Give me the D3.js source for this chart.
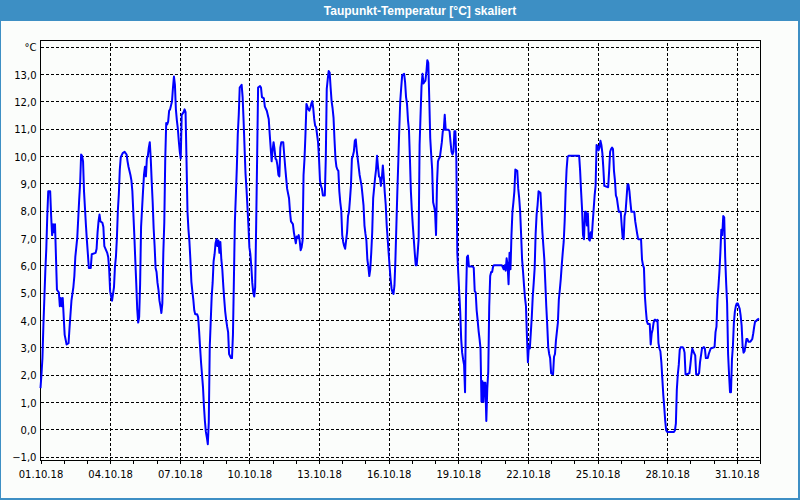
<!DOCTYPE html>
<html>
<head>
<meta charset="utf-8">
<script src="https://cdn.jsdelivr.net/npm/d3@7"></script>
<style>
  body { margin: 0; background: #fff; }
  svg { display: block; }
</style>
</head>
<body>
<div id="chart"></div>
<script>
// Taupunkt-Temperatur, Oktober 2018: [Stunde seit 01.10.18 00:00, °C]
const week1 = [
  [0,1.5],[1,2.0],[2,2.6],[3,3.8],[4,4.8],[5,5.8],[6,6.6],[7,7.8],[8,8.7],[10,8.7],[11,7.8],[12,7.1],[13,7.5],[14,7.2],[15,7.5],[17,5.1],[19,5.0],[20,4.5],[21,4.8],[22,4.5],[23,4.8],[24,4.1],[25,3.45],[27,3.1],[29,3.15],[30,3.7],[32,4.7],[34,5.2],[35,5.6],[36,6.3],[38,7.0],[39,7.7],[40,8.4],[41,9.0],[42,10.05],[43,10.0],[44,9.8],[45,8.7],[47,7.45],[48,6.9],[49,6.4],[50,5.9],[52,5.9],[53,6.4],[57,6.45],[58,6.6],[59,7.2],[60,7.6],[61,7.85],[62,7.6],[64,7.55],[65,7.4],[66,6.7],[69,6.45],[70,6.3],[71,5.85],[72,5.05],[73,4.85],[74,4.7],[76,5.2],[77,5.95],[78,6.3],[79,7.0],[80,8.0],[81,8.6],[82,9.5],[83,9.95],[85,10.1],[87,10.15],[89,10.05],[90,9.8],[91,9.6],[93,9.3],[94,9.1],[95,8.7],[96,7.9],[97,7.1],[98,6.2],[99,5.35],[100,4.4],[101,3.9],[102,4.1],[103,5.3],[104,7.4],[106,8.7],[107,9.3],[108,9.6],[109,9.25],[110,9.9],[111,10.0],[112,10.3],[113,10.5],[114,9.9],[115,9.05],[116,8.3],[117,7.35],[118,6.7],[119,5.9],[120,5.75],[121,5.35],[122,5.1],[123,4.7],[124,4.5],[125,4.25],[126,4.6],[127,6.45],[128,7.55],[129,9.9],[130,11.2],[131,11.15],[132,11.25],[133,11.65],[134,11.7],[136,12.0],[137,12.5],[138,12.9],[139,12.6],[140,11.7],[141,11.3],[142,11.0],[143,10.55],[144,10.15],[145,9.9],[146,11.5],[148,11.6],[149,11.7],[150,11.6],[151,9.8],[152,7.95],[153,7.3],[154,6.85],[155,6.2],[156,5.4],[157,5.05],[158,4.75],[159,4.35],[160,4.2],[162,4.2],[163,4.1],[164,3.6],[165,3.0],[166,2.45],[167,2.0],[168,1.55],[169,0.85],[170,0.3],[171,-0.1],[172,-0.3],[173,-0.55],[174,0.25],[175,3.0],[177,4.85],[178,5.35],[179,6.15],[180,6.4],[181,6.8],[182,6.95],[183,6.7],[184,6.9],[185,6.45],[186,6.85],[187,6.2],[188,5.85],[189,5.25],[190,4.75],[191,4.3],[192,4.0],[193,3.75],[194,3.55],[195,2.75]
];
const week2 = [
  [197,2.6],[198,2.6],[199,3.45],[200,5.5],[201,7.6],[202,8.55],[203,9.55],[204,10.8],[205,11.5],[206,12.5],[208,12.6],[209,12.15],[210,11.3],[211,10.3],[212,9.35],[213,8.8],[215,7.45],[216,6.65],[217,6.4],[218,5.95],[219,5.35],[220,5.0],[221,4.85],[222,5.2],[223,7.45],[224,9.9],[225,12.5],[227,12.55],[228,12.5],[229,12.15],[231,12.1],[232,11.8],[234,11.65],[236,11.35],[237,10.8],[238,10.3],[239,9.8],[240,10.2],[241,10.5],[242,10.25],[243,9.9],[244,9.85],[245,9.65],[246,9.3],[247,9.25],[248,10.3],[249,10.5],[251,10.5],[252,10.05],[253,9.6],[254,9.2],[255,8.8],[257,8.45],[258,7.95],[259,7.6],[261,7.5],[262,7.2],[263,7.0],[264,6.8],[265,7.05],[266,7.0],[267,7.1],[268,6.9],[269,6.55],[270,6.65],[271,6.9],[272,9.3],[273,9.9],[274,10.8],[275,11.9],[276,11.8],[277,11.7],[278,11.65],[279,11.75],[280,11.9],[281,12.0],[282,11.75],[283,11.35],[284,11.1],[285,11.05],[287,10.5],[288,9.9],[289,9.1],[290,8.9],[291,8.8],[292,8.55],[294,8.55],[295,9.9],[296,12.45],[297,12.8],[298,13.1],[299,13.05],[300,12.5],[301,12.0],[302,11.75],[303,11.4],[304,10.6],[305,9.9],[306,9.6],[307,9.5],[308,9.45],[309,8.7],[310,8.3],[311,8.0],[312,7.1],[313,6.85],[314,6.7],[315,6.6],[317,7.2],[318,7.8],[319,7.95],[320,8.4],[321,8.9],[322,9.9],[323,10.0],[324,10.15],[325,10.55],[326,10.6],[327,10.2],[328,9.9],[330,9.3],[332,8.9],[333,8.55],[334,8.2],[335,7.45],[336,7.15],[337,6.9],[338,6.2],[339,5.95],[340,5.6],[341,5.85],[342,6.45],[343,7.2],[344,8.45],[346,9.2],[347,9.5],[348,10.0],[349,9.6],[350,9.25],[351,9.2],[352,8.9],[353,9.2],[354,9.65],[355,9.2],[356,8.65],[357,8.2],[358,7.45],[359,6.95],[360,6.45],[361,5.95],[362,5.5],[363,5.15],[364,5.0],[365,4.95],[366,5.25],[367,6.2],[368,7.45],[369,8.7],[370,9.8],[371,11.0],[372,12.0],[373,12.5],[374,12.95],[376,13.0],[377,12.7],[378,12.15],[379,11.9],[380,11.3],[381,10.95]
];
const week3 = [
  [382,9.9],[383,8.7],[384,8.0],[385,7.45],[386,6.95],[387,6.45],[388,6.0],[389,6.0],[390,6.45],[391,6.95],[392,10.4],[393,11.5],[394,12.55],[395,13.0],[396,12.65],[397,12.7],[398,12.75],[399,13.05],[400,13.5],[401,13.4],[402,12.1],[403,10.65],[404,10.05],[405,9.5],[406,8.3],[407,8.15],[408,7.95],[409,7.1],[410,9.0],[411,9.8],[412,9.9],[413,9.95],[415,10.5],[416,10.9],[417,10.95],[418,11.5],[419,10.95],[420,10.95],[422,10.95],[423,10.9],[424,10.5],[425,10.15],[426,10.05],[427,10.15],[428,10.9],[429,10.9],[430,9.9],[431,6.45],[432,5.7],[433,5.0],[434,4.3],[435,3.3],[436,2.8],[437,2.55],[438,2.35],[439,1.35],[440,4.8],[441,6.3],[442,6.35],[443,5.95],[447,5.95],[448,5.9],[449,5.05],[450,5.0],[451,4.35],[452,4.0],[453,3.6],[454,3.3],[455,2.95],[456,1.0],[457,1.75],[458,1.0],[459,1.7],[460,1.7],[461,0.3],[462,1.5],[463,2.1],[464,4.5],[465,5.6],[466,5.75],[467,5.75],[468,5.95],[469,6.0],[477,6.0],[479,5.85],[480,6.0],[481,5.8],[482,6.25],[483,6.0],[484,5.3],[485,6.45],[486,5.85],[487,7.1],[488,7.95],[489,8.3],[490,8.7],[491,9.5],[493,9.45],[494,8.8],[495,8.45],[496,7.95],[497,7.1],[498,6.2],[499,5.75],[500,5.25],[501,4.8],[502,4.5],[503,3.4],[504,2.45],[505,3.05],[506,2.95],[508,4.1],[509,4.85],[510,5.35],[511,5.9],[512,7.15],[513,7.85],[514,8.2],[515,8.7],[517,8.65],[518,7.95],[519,7.2],[520,6.7],[521,6.2],[522,5.35],[523,4.5],[524,3.8],[525,3.0],[526,2.75],[527,2.6],[528,2.05],[530,2.0],[531,2.65],[532,2.75],[533,3.25],[535,3.9],[536,4.75],[537,5.1],[538,5.5],[539,6.0],[540,6.45],[541,6.85],[542,7.6],[543,8.7],[544,9.5],[545,9.95],[546,10.0],[557,10.0],[558,9.45],[559,8.7],[560,8.05],[561,7.1],[562,6.95],[563,7.95],[564,7.95],[565,7.45],[566,7.9],[567,6.95],[568,6.9],[569,7.2],[570,7.0],[571,7.55],[572,8.05],[573,8.55],[574,8.9],[575,10.4],[576,10.35],[577,10.2],[578,10.3],[579,10.55],[580,10.4],[581,10.1],[582,9.55],[583,8.9],[587,8.85],[588,9.45],[589,10.15]
];
const week4 = [
  [590,10.25],[591,10.3],[592,10.25],[593,9.45],[594,9.1],[595,8.55],[596,8.45],[597,8.2],[598,7.95],[600,7.95],[601,7.45],[602,7.0],[603,6.95],[604,7.8],[605,7.95],[606,8.45],[607,8.95],[608,8.95],[609,8.7],[610,8.3],[611,7.95],[614,7.95],[615,7.6],[617,7.15],[618,6.95],[621,6.95],[622,6.2],[623,6.0],[624,5.9],[625,4.85],[626,4.35],[627,3.95],[628,3.85],[630,3.85],[631,3.1],[632,3.5],[633,3.65],[634,3.9],[635,4.0],[636,4.0],[637,3.95],[638,4.0],[639,3.15],[640,2.95],[641,2.85],[642,2.45],[643,1.85],[644,1.25],[645,0.8],[646,0.3],[647,-0.05],[648,-0.1],[655,-0.1],[656,-0.05],[657,0.2],[658,1.45],[659,2.0],[660,2.35],[661,2.9],[662,3.0],[664,3.0],[665,2.95],[666,2.8],[667,2.0],[668,2.0],[671,2.05],[672,2.35],[673,2.7],[674,2.95],[675,2.85],[677,2.7],[678,2.0],[680,2.0],[681,2.05],[682,2.45],[683,2.7],[684,2.95],[686,3.0],[687,2.95],[688,2.6],[690,2.6],[691,2.75],[692,2.85],[693,2.95],[697,3.0],[698,3.55],[699,3.75],[700,4.75],[701,5.2],[702,5.75],[703,6.45],[704,7.3],[705,7.1],[706,7.8],[707,7.75],[708,6.3],[709,5.35],[710,4.6],[711,2.75],[712,2.0],[713,1.35],[714,1.35],[715,2.55],[716,3.05],[717,3.9],[718,4.3],[719,4.5],[720,4.6],[721,4.6],[722,4.5],[723,4.4],[724,4.15],[725,3.8],[726,3.05],[727,2.8],[728,2.85],[729,3.05],[730,3.3],[731,3.3],[732,3.2],[734,3.2],[735,3.25],[736,3.3],[737,3.5],[738,3.75],[739,3.95],[740,3.95],[741,4.0],[743,4.05]
];

const yTicks = [-1, 0, 1, 2, 3, 4, 5, 6, 7, 8, 9, 10, 11, 12, 13, 14];
const title = "Taupunkt-Temperatur [°C] skaliert";
const unit = "°C";

const startDate = Date.UTC(2018, 9, 1);
const endDate = Date.UTC(2018, 10, 1);

const width = 800, height = 500;
const plot = { left: 40.5, top: 40.5, right: 760.5, bottom: 460.5 };

const series = [].concat(week1, week2, week3, week4).map(d => ({
  date: new Date(startDate + d[0] * 3600e3),
  value: d[1],
}));

const svg = d3.select("#chart")
  .append("svg")
  .attr("width", width)
  .attr("height", height)
  .style("font-family", "'DejaVu Sans', sans-serif");

// window frame + title bar
svg.append("rect")
  .attr("width", width).attr("height", height)
  .attr("fill", "#3d8fc4");
svg.append("rect")
  .attr("x", 1).attr("y", 21)
  .attr("width", width - 3).attr("height", height - 23)
  .attr("fill", "#fbfdfb");
svg.append("text")
  .attr("x", 420).attr("y", 15)
  .attr("text-anchor", "middle")
  .attr("fill", "#fff")
  .style("font-family", "'Liberation Sans', Arial, sans-serif")
  .style("font-weight", "bold")
  .style("font-size", "12px")
  .text(title);

const x = d3.scaleUtc()
  .domain([new Date(startDate), new Date(endDate)])
  .range([plot.left, plot.right - 0.5]);

const y = d3.scaleLinear()
  .domain([-1, 14])
  .range([456.5, 46.5]);

const days = d3.utcDay.range(new Date(startDate), new Date(endDate + 1));
const labelDays = days.filter((d, i) => i % 3 === 0 && i < 31);

// horizontal grid
svg.append("g")
  .attr("transform", `translate(${plot.left},0)`)
  .call(d3.axisRight(y).tickValues(yTicks).tickSize(plot.right - plot.left).tickFormat(""))
  .call(g => g.select(".domain").remove())
  .call(g => g.selectAll(".tick line")
    .attr("stroke", "#000")
    .attr("stroke-dasharray", "3,2")
    .attr("shape-rendering", "crispEdges"));

// vertical grid
svg.append("g")
  .attr("transform", `translate(0,${plot.bottom})`)
  .call(d3.axisTop(x).tickValues(labelDays.slice(1)).tickSize(plot.bottom - plot.top).tickFormat(""))
  .call(g => g.select(".domain").remove())
  .call(g => g.selectAll(".tick line")
    .attr("stroke", "#000")
    .attr("stroke-dasharray", "3,2")
    .attr("shape-rendering", "crispEdges"));

// y labels
svg.append("g")
  .attr("transform", `translate(${plot.left},0)`)
  .call(d3.axisLeft(y).tickValues(yTicks).tickSize(0).tickPadding(4)
    .tickFormat(d => d === 14 ? unit : d3.format(".1f")(d).replace(".", ",").replace("-", "-")))
  .call(g => g.select(".domain").remove())
  .call(g => g.selectAll("text")
    .attr("dy", "0.42em")
    .attr("fill", "#000")
    .style("font-family", "'DejaVu Sans', sans-serif")
    .style("font-size", "10px"));

// x axis: day ticks + labels
svg.append("g")
  .attr("transform", `translate(0,${plot.bottom})`)
  .call(d3.axisBottom(x).tickValues(days).tickSize(3).tickFormat(""))
  .call(g => g.select(".domain").remove())
  .call(g => g.selectAll(".tick line").attr("stroke", "#000").attr("shape-rendering", "crispEdges"));

svg.append("g")
  .attr("transform", `translate(0,${plot.bottom})`)
  .call(d3.axisBottom(x).tickValues(labelDays).tickSize(0).tickPadding(10)
    .tickFormat(d3.utcFormat("%d.%m.%y")))
  .call(g => g.select(".domain").remove())
  .call(g => g.selectAll("text")
    .attr("fill", "#000")
    .style("font-family", "'DejaVu Sans', sans-serif")
    .style("font-size", "10px"));

// plot frame
svg.append("rect")
  .attr("x", plot.left).attr("y", plot.top)
  .attr("width", plot.right - plot.left).attr("height", plot.bottom - plot.top)
  .attr("fill", "none")
  .attr("stroke", "#000")
  .attr("shape-rendering", "crispEdges");

// data line
const line = d3.line()
  .x(d => x(d.date))
  .y(d => y(d.value));

svg.append("path")
  .datum(series)
  .attr("d", line)
  .attr("fill", "none")
  .attr("stroke", "#0000ff")
  .attr("stroke-width", 2)
  .attr("stroke-linejoin", "round");
</script>
</body>
</html>
